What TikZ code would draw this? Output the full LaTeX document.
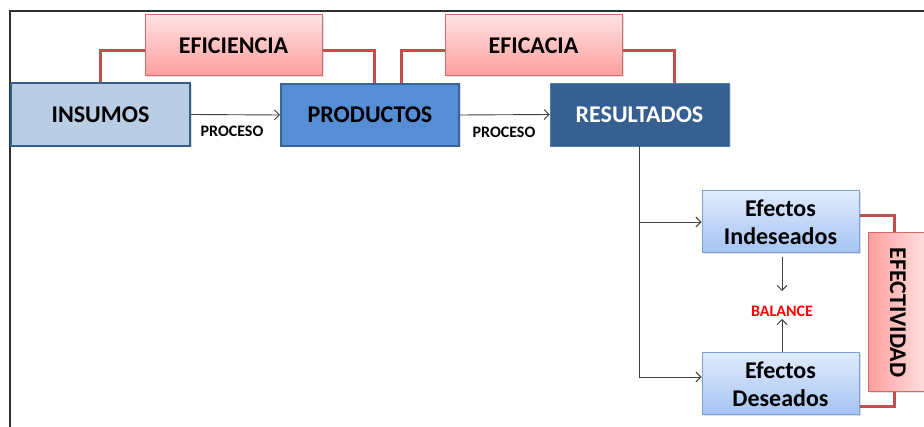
\documentclass[tikz,border=0pt]{standalone}
\usepackage{fontspec}
\setmainfont{Carlito}
\usetikzlibrary{arrows.meta,shadows}
\definecolor{insfill}{HTML}{B9CDE5}
\definecolor{insdraw}{HTML}{385D8A}
\definecolor{prodfill}{HTML}{558ED5}
\definecolor{proddraw}{HTML}{3A639A}
\definecolor{resfill}{HTML}{376092}
\definecolor{resdraw}{HTML}{4F7BB5}
\definecolor{pinktop}{HTML}{FFE2E2}
\definecolor{pinkbot}{HTML}{FF9E9E}
\definecolor{pinkdraw}{HTML}{D46A6A}
\definecolor{efftop}{HTML}{E0EBFC}
\definecolor{effbot}{HTML}{A4C3F3}
\definecolor{effdraw}{HTML}{7BA0D6}
\definecolor{redline}{HTML}{C0504D}
\definecolor{conn}{HTML}{404040}
\definecolor{framecol}{HTML}{303030}
\definecolor{balred}{HTML}{FF0000}
\tikzset{
  shad/.style={drop shadow={opacity=0.25,shadow xshift=1.5pt,shadow yshift=-1.5pt}},
  bigfont/.style={font=\fontsize{24}{28}\selectfont\bfseries},
  mainbox/.style={shad,minimum width=179pt,minimum height=63pt,inner sep=0pt,bigfont},
  pinkbox/.style={shad,draw=pinkdraw,line width=1pt,inner sep=0pt,bigfont},
  pinkv/.style={pinkbox,top color=pinktop,bottom color=pinkbot},
  pinkh/.style={pinkbox,left color=pinkbot,right color=pinktop},
  effbox/.style={shad,draw=effdraw,line width=1pt,top color=efftop,bottom color=effbot,minimum width=157pt,minimum height=62pt,inner sep=0pt,align=center,bigfont},
  redconn/.style={draw=redline,line width=3pt},
  arr/.style={draw=conn,line width=0.9pt,-{Straight Barb[length=5pt,width=10pt]}},
  lbl/.style={inner sep=0pt,font=\fontsize{16}{18}\selectfont\bfseries}
}
\begin{document}
\begin{tikzpicture}[x=1pt,y=-1pt]
\useasboundingbox (0,0) rectangle (924,427);
\begin{scope}
\clip (0,0) rectangle (924,427);
\draw[framecol,line width=1.5pt] (10,427) -- (10,11) -- (924,11);
% main boxes
\node[mainbox,draw=insdraw,line width=2pt,fill=insfill] (ins) at (100.5,114.5) {INSUMOS};
\node[mainbox,draw=proddraw,line width=2pt,fill=prodfill,minimum width=178pt,minimum height=62pt] (prod) at (370,115) {PRODUCTOS};
\node[mainbox,draw=resdraw,line width=0.6pt,fill=resfill,text=white] (res) at (639.5,114.5) {RESULTADOS};
% pink boxes
\node[pinkv,minimum width=177pt,minimum height=61pt] (efi) at (233.5,45.5) {EFICIENCIA};
\node[pinkv,minimum width=177pt,minimum height=61pt] (efa) at (533.5,45.5) {EFICACIA};
% effect boxes
\node[effbox] (ind) at (780.5,222) {Efectos\\Indeseados};
\node[effbox] (des) at (780.5,384) {Efectos\\Deseados};
\node[pinkh,minimum width=60pt,minimum height=159pt] (efe) at (898,312.5) {};
\node[bigfont,inner sep=0pt,rotate=-90] (efet) at (efe.center) {EFECTIVIDAD};
% labels
\node[lbl] (p1) at (232,131) {PROCESO};
\node[lbl] (p2) at (504,132.5) {PROCESO};
\node[lbl,text=balred] (bal) at (782,311) {BALANCE};
% helper coordinates
\coordinate (ex) at (894,0);
\coordinate (corner) at (639,377);
\coordinate (b1) at (782,257);
\coordinate (b2) at (782,291);
\coordinate (b3) at (782,352);
\coordinate (b4) at (782,319);
% red connectors
\draw[redconn] (ins.north) |- ([yshift=-5.5pt]efi.west);
\draw[redconn] ([yshift=-5.5pt]efi.east) -| ([xshift=4pt]prod.north);
\draw[redconn] ([xshift=31pt]prod.north) |- ([yshift=-5.5pt]efa.west);
\draw[redconn] ([yshift=-5.5pt]efa.east) -| ([xshift=34.5pt]res.north);
\draw[redconn] ([yshift=6pt]ind.east) -| (efe.north -| ex);
\draw[redconn] ([yshift=-23pt]des.east) -| (efe.south -| ex);
% black connectors
\draw[arr] (ins.east) -- (prod.west);
\draw[arr] (prod.east) -- (res.west);
\draw[draw=conn,line width=0.9pt] (res.south -| corner) -- (corner);
\draw[arr] (corner |- ind.west) -- (ind.west);
\draw[arr] (corner) -- (corner -| des.west);
\draw[arr] (b1) -- (b2);
\draw[arr] (b3) -- (b4);
\end{scope}
\end{tikzpicture}
\end{document}
